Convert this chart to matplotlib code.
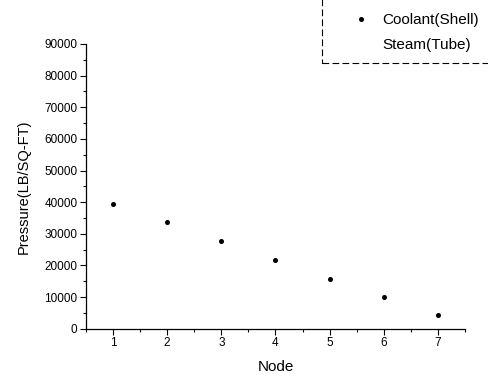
import matplotlib.pyplot as plt
from matplotlib.patches import Rectangle
from matplotlib.ticker import MultipleLocator

plt.rcParams['font.family'] = ['Liberation Sans', 'DejaVu Sans']

nodes = [1, 2, 3, 4, 5, 6, 7]
coolant_shell = [39500, 33700, 27700, 21700, 15800, 10000, 4200]
steam_tube = []

fig = plt.figure(figsize=(4.88, 3.85), dpi=100)
ax = fig.add_axes([0.176, 0.146, 0.777, 0.740])

ax.plot(nodes, coolant_shell, linestyle='none', marker='o', markersize=2.6,
        color='black', label='Coolant(Shell)')
ax.plot(steam_tube, steam_tube, linestyle='none', color='black', label='Steam(Tube)')

ax.set_xlim(0.5, 7.5)
ax.set_ylim(0, 90000)
ax.xaxis.set_major_locator(MultipleLocator(1))
ax.xaxis.set_minor_locator(MultipleLocator(0.5))
ax.yaxis.set_major_locator(MultipleLocator(10000))
ax.yaxis.set_minor_locator(MultipleLocator(5000))
ax.tick_params(which='major', direction='out', length=4, width=0.8, labelsize=8.5, pad=2)
ax.tick_params(which='minor', direction='out', length=2, width=0.8)

ax.spines['top'].set_visible(False)
ax.spines['right'].set_visible(False)
ax.spines['left'].set_linewidth(0.9)
ax.spines['bottom'].set_linewidth(0.9)

ax.set_xlabel('Node', fontsize=11, labelpad=8)
ax.set_ylabel('Pressure(LB/SQ-FT)', fontsize=10.5, labelpad=10)

# legend, its box runs off the top and right edges of the page
leg = fig.legend(loc='upper left', bbox_to_anchor=(0.718, 0.966), fontsize=11,
                 frameon=False, handlelength=1.4, handletextpad=0.7,
                 borderpad=0, labelspacing=0.7, borderaxespad=0)
fig.patches.append(Rectangle((0.66, 1 - 63 / 385), 0.5, 0.5, transform=fig.transFigure,
                             fill=False, edgecolor='black', linewidth=0.8,
                             linestyle=(0, (6, 3))))

fig.savefig('out.png', dpi=100)
